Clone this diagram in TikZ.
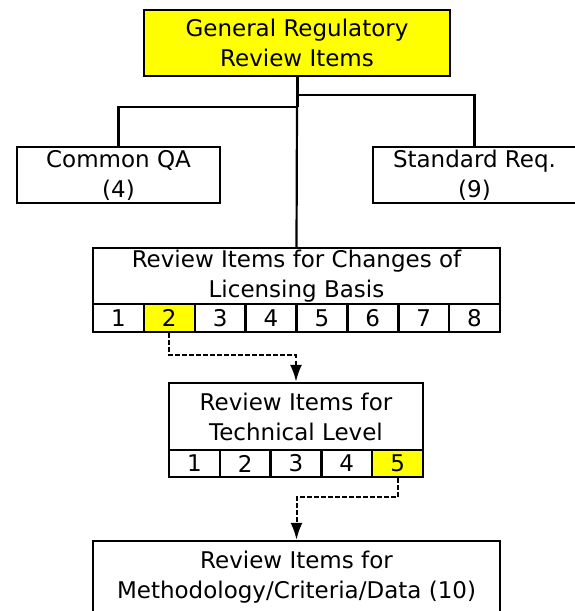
\documentclass[tikz,border=0pt]{standalone}
\usepackage{fontspec}
\setmainfont{DejaVu Sans}
\usetikzlibrary{arrows.meta}
\definecolor{hly}{RGB}{255,255,0}
\tikzset{
  box/.style={draw, line width=2.5pt, inner sep=0pt, align=center, font=\fontsize{23}{30}\selectfont},
  hl/.style={fill=hly},
  cell/.style={draw, line width=2.5pt, inner sep=0pt, font=\fontsize{23}{28}\selectfont},
  conn/.style={line width=2.2pt},
  trunk/.style={line width=3pt},
  dasharrow/.style={line width=2pt, dash pattern=on 4.5pt off 2.5pt, -{Latex[length=17pt,width=12pt]}}
}
\begin{document}
\begin{tikzpicture}[x=1pt,y=-1pt]
\useasboundingbox (0,0) rectangle (575,611);
\clip (0,0) rectangle (575,611);
% boxes
\node[box,hl,minimum width=306pt,minimum height=66pt] (top) at (297,43) {General Regulatory\\Review Items};
\node[box,minimum width=203pt,minimum height=56pt] (qa) at (118.5,175) {Common QA\\(4)};
\node[box,minimum width=203pt,minimum height=56pt] (std) at (474.5,175) {Standard Req.\\(9)};
\node[box,minimum width=407pt,minimum height=56pt] (chg) at (296.5,276) {Review Items for Changes of\\Licensing Basis};
\foreach \i/\f in {1/white,2/hly,3/white,4/white,5/white,6/white,7/white,8/white}
  \node[cell,fill=\f,minimum width=50.875pt,minimum height=28pt] (c\i) at ({93+50.875*(\i-0.5)},318) {\i};
\node[box,minimum width=254pt,minimum height=67pt] (tech) at (296,416.5) {Review Items for\\Technical Level};
\foreach \i/\f in {1/white,2/white,3/white,4/white,5/hly}
  \node[cell,fill=\f,minimum width=50.8pt,minimum height=27pt] (t\i) at ({169+50.8*(\i-0.5)},463.5) {\i};
\node[box,minimum width=407pt,minimum height=73pt] (bot) at (296.5,577.5) {Review Items for\\Methodology/Criteria/Data (10)};
% connectors
\coordinate (jr) at (297,95);
\coordinate (jl) at (297,107);
\draw[trunk] (top.south) -- (jl);
\draw[conn] (jl) -- (chg.north);
\draw[conn] (jr) -| (std.north);
\draw[conn] (jl) -| (qa.north);
\draw[dasharrow] (c2.south) -- ++(0,22) -| (tech.north);
\draw[dasharrow] (t5.south) -- ++(0,19) -| (bot.north);
\end{tikzpicture}
\end{document}
